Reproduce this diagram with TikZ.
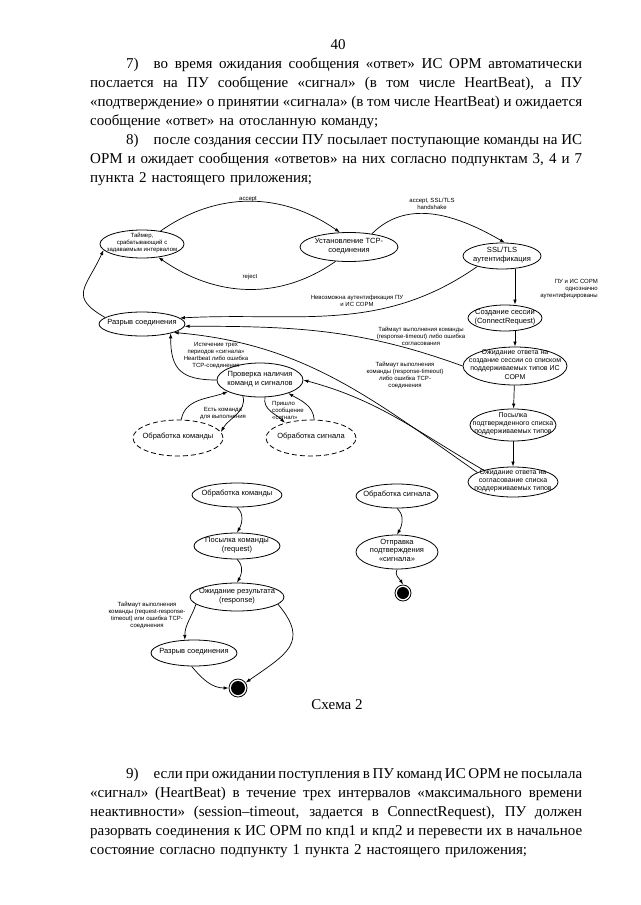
\documentclass[tikz,border=0pt]{standalone}
\usepackage{fontspec}
\setmainfont{Liberation Serif}
\setsansfont{Liberation Sans}
\usetikzlibrary{shapes.geometric, arrows.meta}

% text inside a fixed-size state, without letting it grow the ellipse
\newcommand{\inell}[1]{\raisebox{-.25em}{\makebox[0pt]{\smash{\begin{tabular}{@{}c@{}}#1\end{tabular}}}}}
% one printed line of a justified paragraph
\newcommand{\jline}[1]{\hbox to 492pt{\spaceskip=.25em plus 1fil minus .08em\xspaceskip=\spaceskip #1}}
\newcommand{\lline}[1]{\hbox to 492pt{#1\hfil}}

\begin{document}
\begin{tikzpicture}[x=1pt, y=-1pt,
    state/.style={ellipse, draw, line width=.8pt, inner sep=0pt, font=\sffamily\fontsize{7.5}{8.6}\selectfont},
    dstate/.style={state, dash pattern=on 5pt off 3pt},
    small/.style={font=\sffamily\fontsize{7}{8.2}\selectfont},
    endst/.style={circle, draw, line width=.8pt, minimum size=#1, inner sep=0pt,
        path picture={\fill (path picture bounding box.center) circle (#1/2-2pt);}},
    arrow/.style={-{Latex[length=5pt,width=3.5pt]}, line width=.7pt},
    lbl/.style={font=\sffamily\fontsize{6}{7}\selectfont, align=center, inner sep=0pt},
    para/.style={text width=492pt, inner sep=0pt, anchor=base west, font=\fontsize{15}{19}\selectfont},
]
    \useasboundingbox (0,0) rectangle (640,905);
    \fill[white] (0,0) rectangle (640,905);

    % page text
    \node[font=\fontsize{15}{19}\selectfont] (pagenum) at (338,45) {40};
    \node[para] (ptop) at (90,68.5) {\vtop{%
        \jline{\hspace{36pt}7)\quad во время ожидания сообщения «ответ» ИС ОРМ автоматически}%
        \jline{послается на ПУ сообщение «сигнал» (в том числе HeartBeat), а ПУ}%
        \jline{«подтверждение» о принятии «сигнала» (в том числе HeartBeat) и ожидается}%
        \lline{сообщение «ответ» на отосланную команду;}%
        \jline{\hspace{36pt}8)\quad после создания сессии ПУ посылает поступающие команды на ИС}%
        \jline{ОРМ и ожидает сообщения «ответов» на них согласно подпунктам 3, 4 и 7}%
        \lline{пункта 2 настоящего приложения;}}};

    % upper states
    \node[state, minimum width=84pt, minimum height=28pt, font=\sffamily\fontsize{6}{6.8}\selectfont] (timer) at (142,244) {\inell{Таймер,\\срабатывающий с\\задаваемым интервалом}};
    \node[state, minimum width=98pt, minimum height=29pt] (tcp) at (349,247) {\inell{Установление TCP-\\соединения}};
    \node[state, minimum width=78pt, minimum height=26pt] (ssl) at (502,256) {\inell{SSL/TLS\\аутентификация}};
    \node[state, minimum width=74pt, minimum height=26pt] (sess) at (505,318) {\inell{Создание сессии\\(ConnectRequest)}};
    \node[state, small, minimum width=104pt, minimum height=38pt] (wait1) at (515,366) {\inell{Ожидание ответа на\\создание сессии со списком\\поддерживаемых типов ИС\\СОРМ}};
    \node[state, small, minimum width=86pt, minimum height=32pt] (confirm) at (513,425) {\inell{Посылка\\подтвержденного списка\\поддерживаемых типов}};
    \node[state, small, minimum width=90pt, minimum height=30pt] (wait2) at (513,482) {\inell{Ожидание ответа на\\согласование списка\\поддерживаемых типов}};
    \node[state, minimum width=86pt, minimum height=24pt] (brk) at (142,324) {\inell{Разрыв соединения}};
    \node[state, minimum width=86pt, minimum height=34pt] (check) at (260,380) {\inell{Проверка наличия\\команд и сигналов}};
    \node[dstate, minimum width=90pt, minimum height=36pt] (hcmd) at (178,438) {\inell{Обработка команды}};
    \node[dstate, minimum width=90pt, minimum height=36pt] (hsig) at (311,438) {\inell{Обработка сигнала}};

    % lower states
    \node[state, minimum width=90pt, minimum height=24pt] (cmd) at (237,495) {\inell{Обработка команды}};
    \node[state, minimum width=86pt, minimum height=26pt] (req) at (237,546) {\inell{Посылка команды\\(request)}};
    \node[state, minimum width=94pt, minimum height=28pt] (resp) at (237,597) {\inell{Ожидание результата\\(response)}};
    \node[state, minimum width=86pt, minimum height=26pt] (brk2) at (194,653) {\inell{Разрыв соединения}};
    \node[endst=18pt] (end1) at (238,688) {};
    \node[state, minimum width=82pt, minimum height=24pt] (sig) at (397,496) {\inell{Обработка сигнала}};
    \node[state, minimum width=82pt, minimum height=34pt] (ack) at (397,552) {\inell{Отправка\\подтверждения\\«сигнала»}};
    \node[endst=16pt] (end2) at (403,593) {};

    % transitions
    \draw[arrow] (timer.35) to[out=35, in=145] (tcp.122);
    \draw[arrow] (tcp.227) to[out=-145, in=-35] (timer.-39);
    \draw[arrow] (tcp.30) to[out=45, in=150] (ssl.78);
    \draw[arrow] (ssl.south -| wait1) -- (sess.north -| wait1);
    \draw[arrow] (ssl.203) to[out=-145, in=3] (brk.9);
    \draw[arrow] (sess.south -| wait1) -- (wait1.north);
    \draw[arrow] (wait1) -- (confirm);
    \draw[arrow] (confirm) -- (wait2);
    \draw[arrow] (wait1.west) to[out=160, in=0] (brk.-3);
    \draw[arrow] (wait2.165) to[out=145, in=-5] (brk.-15);
    \draw[arrow] (wait2.158) to[out=150, in=-15] (check.east);
    \draw[arrow] (brk.170) to[out=150, in=-115, looseness=1.6] (timer.189);
    \draw[arrow] (check.west) to[out=180, in=-90, looseness=1.4] (brk.-18);
    \draw[arrow] (check.-137) to[out=-75, in=60] (hcmd.8);
    \draw[arrow] (hcmd.80) to[out=80, in=-160] (check.200);
    \draw[arrow] (check.-74) to[out=-100, in=135] (hsig.150);
    \draw[arrow] (hsig.80) to[out=95, in=-30] (check.-25);

    \draw[arrow] (cmd.south) to[out=-40, in=60] (req.north);
    \draw[arrow] (req.south) to[out=-40, in=60] (resp.north);
    \draw[arrow] (resp.190) to[out=-110, in=90] (brk2.125);
    \draw[arrow] (resp.-10) to[out=-50, in=35, looseness=1.5] (end1);
    \draw[arrow] (brk2.-100) to[out=-50, in=180] (end1);
    \draw[arrow] (sig.south) to[out=-40, in=60] (ack.north);
    \draw[arrow] (ack.south) to[out=-120, in=120] (end2.north);

    % labels
    \node[lbl] (laccept) at (248,199) {accept};
    \node[lbl] (lreject) at (250,277) {reject};
    \node[lbl] (lhshake) at (432,204) {accept, SSL/TLS\\handshake};
    \node[lbl, anchor=east, align=right] (lauth) at (598,289) {ПУ и ИС СОРМ\\однозначно\\аутентифицированы};
    \node[lbl] (lnoauth) at (357,301) {Невозможна аутентификация ПУ\\и ИС СОРМ};
    \node[lbl] (lresp1) at (421,336) {Таймаут выполнения команды\\(response-timeout) либо ошибка\\согласования};
    \node[lbl] (lresp2) at (405,375) {Таймаут выполнения\\команды (response-timeout)\\либо ошибка TCP-\\соединения};
    \node[lbl] (lbeat) at (216,356) {Истечение трех\\периодов «сигнала»\\Heartbeat либо ошибка\\TCP-соединения};
    \node[lbl] (lgotcmd) at (223,414) {Есть команда\\для выполнения};
    \node[lbl, anchor=west, align=left] (lgotsig) at (272,410) {Пришло\\сообщение\\«сигнал»};
    \node[lbl] (lreq) at (147,615) {Таймаут выполнения\\команды (request-response-\\timeout) или ошибка TCP-\\соединения};

    \node[font=\fontsize{15}{19}\selectfont] (caption) at (337,705) {Схема 2};

    \node[para] (pbottom) at (90,778.5) {\vtop{%
        \jline{\hspace{36pt}9)\quad если при ожидании поступления в ПУ команд ИС ОРМ не посылала}%
        \jline{«сигнал» (HeartBeat) в течение трех интервалов «максимального времени}%
        \jline{неактивности» (session–timeout, задается в ConnectRequest), ПУ должен}%
        \jline{разорвать соединения к ИС ОРМ по кпд1 и кпд2 и перевести их в начальное}%
        \lline{состояние согласно подпункту 1 пункта 2 настоящего приложения;}}};
\end{tikzpicture}
\end{document}
